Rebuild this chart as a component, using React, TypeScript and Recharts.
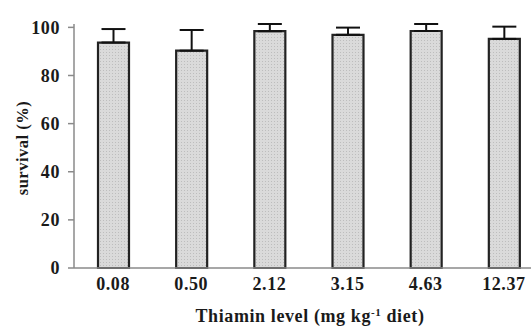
import React from "react";
import { BarChart, Bar, XAxis, YAxis, ErrorBar, Label } from "recharts";

const levels = ["0.08", "0.50", "2.12", "3.15", "4.63", "12.37"];
const survival = [93.7, 90.3, 98.4, 96.9, 98.5, 95.2];
const sdUpper = [5.6, 8.6, 3.0, 3.0, 2.9, 5.1];
const yTicks = [0, 20, 40, 60, 80, 100];

const FONT = "'Liberation Serif', 'Times New Roman', serif";
const AXIS = "#8a8a8a";
const INK = "#1a1a1a";

const rows = levels.map((lvl, i) => ({
  level: lvl,
  survival: survival[i],
  err: [0, sdUpper[i]],
}));

const tickStyle = { fontSize: 18, fontWeight: 700, fill: INK, fontFamily: FONT, letterSpacing: 0.6 };

export default function App() {
  return (
    <div style={{ position: "absolute", left: 0, top: 0, width: 531, height: 327, overflow: "hidden", background: "#fff" }}>
      <BarChart width={545} height={327} data={rows} margin={{ top: 24, right: 2, bottom: 0, left: 0 }}>
        <defs>
          <pattern id="stipple" width="3" height="3" patternUnits="userSpaceOnUse">
            <rect width="3" height="3" fill="#dadada" />
            <rect x="1" y="1" width="1" height="1" fill="#bdbdbd" />
          </pattern>
        </defs>
        <XAxis
          dataKey="level"
          height={59}
          tickLine={false}
          tickSize={0}
          tickMargin={9}
          axisLine={{ stroke: AXIS, strokeWidth: 1.5 }}
          tick={tickStyle}
        >
          <Label
            content={() => (
              <text x={310} y={322} textAnchor="middle" fontFamily={FONT} fontWeight={700} fontSize={18} fill={INK} letterSpacing={0.6}>
                Thiamin level (mg kg
                <tspan dy={-6} fontSize={11}>-1</tspan>
                <tspan dy={6}> diet)</tspan>
              </text>
            )}
          />
        </XAxis>
        <YAxis
          width={74}
          domain={[0, 100]}
          ticks={yTicks}
          tickSize={6}
          tickMargin={8}
          tickLine={{ stroke: AXIS, strokeWidth: 1.5 }}
          axisLine={{ stroke: AXIS, strokeWidth: 1.5 }}
          tick={tickStyle}
        >
          <Label
            content={() => (
              <text x={24} y={148} transform="rotate(-90 24 148)" textAnchor="middle" dominantBaseline="middle" fontFamily={FONT} fontWeight={700} fontSize={16.5} fill={INK} letterSpacing={0.5}>
                survival (%)
              </text>
            )}
          />
        </YAxis>
        <Bar dataKey="survival" barSize={31} fill="url(#stipple)" stroke="#222" strokeWidth={2.2} isAnimationActive={false}>
          <ErrorBar dataKey="err" width={12} stroke="#111" strokeWidth={2} direction="y" />
        </Bar>
      </BarChart>
    </div>
  );
}
